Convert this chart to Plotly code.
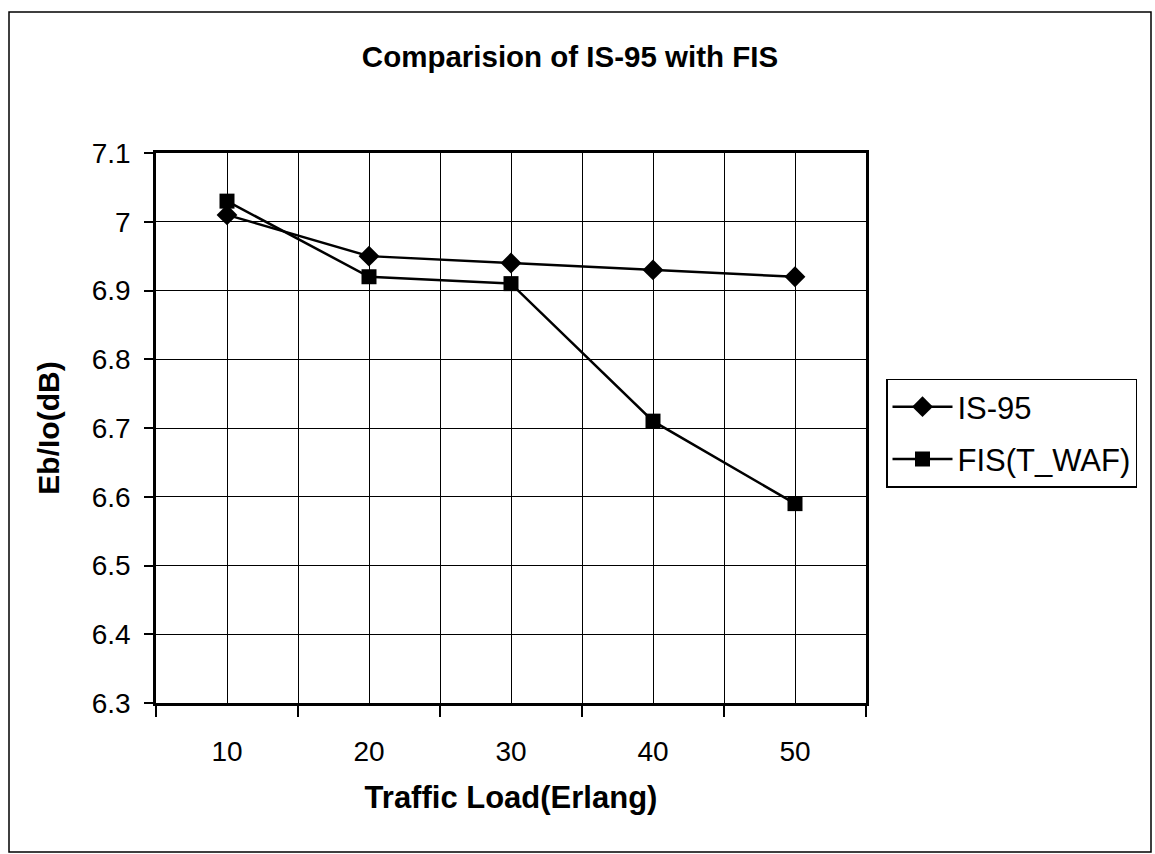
import plotly.graph_objects as go

traffic_load = [10, 20, 30, 40, 50]
is95 = [7.01, 6.95, 6.94, 6.93, 6.92]
fis_twaf = [7.03, 6.92, 6.91, 6.71, 6.59]
y_ticks = [7.1, 7.0, 6.9, 6.8, 6.7, 6.6, 6.5, 6.4, 6.3]
y_tick_text = ["7.1", "7", "6.9", "6.8", "6.7", "6.6", "6.5", "6.4", "6.3"]
x_tick_text = ["10", "20", "30", "40", "50"]

FONT = "Liberation Sans, Arial, sans-serif"
boundaries = [traffic_load[0] - 5] + [v + 5 for v in traffic_load]

fig = go.Figure()
fig.add_trace(go.Scatter(
    x=traffic_load, y=is95, name="IS-95", mode="lines+markers", legendgroup="a",
    line=dict(color="black", width=2.5),
    marker=dict(symbol="diamond", size=16, color="black"),
))
fig.add_trace(go.Scatter(
    x=traffic_load, y=fis_twaf, name="FIS(T_WAF)", mode="lines+markers", legendgroup="b",
    line=dict(color="black", width=2.5),
    marker=dict(symbol="square", size=15, color="black"),
))

L, R, T, B = 156, 866, 153, 703
W, H = 1155, 854
PW, PH = R - L, B - T

fig.update_layout(
    width=W, height=H,
    margin=dict(l=L, r=W - R, t=T, b=H - B),
    paper_bgcolor="white", plot_bgcolor="white",
    font=dict(family=FONT, color="black", size=28),
    title=dict(text="<b>Comparision of IS-95 with FIS</b>", x=570 / W, xref="container",
               xanchor="center", y=1 - 57 / H, yref="container", yanchor="middle",
               font=dict(size=29.5, family=FONT)),
    showlegend=True,
    legend=dict(x=(886 - L) / PW, y=(B - 433) / PH, xanchor="left", yanchor="middle",
                bordercolor="black", borderwidth=1.5, bgcolor="white",
                font=dict(size=31, family=FONT), tracegroupgap=9, itemwidth=60),
    xaxis=dict(
        range=[boundaries[0], boundaries[-1]],
        tickmode="array", tickvals=traffic_load, ticktext=x_tick_text,
        ticks="", showgrid=True, gridcolor="black", gridwidth=1,
        showline=True, linecolor="black", linewidth=2.5, mirror=True,
        zeroline=False, ticklabelstandoff=22,
        tickfont=dict(size=28, family=FONT),
        minor=dict(tickmode="array", tickvals=boundaries, ticks="outside", ticklen=11,
                   tickcolor="black", tickwidth=1.5, showgrid=True, gridcolor="black", gridwidth=1),
        title=dict(text="<b>Traffic Load(Erlang)</b>", font=dict(size=31, family=FONT), standoff=20),
    ),
    yaxis=dict(
        range=[6.3, 7.1], tickmode="array", tickvals=y_ticks, ticktext=y_tick_text,
        ticks="outside", ticklen=9, tickcolor="black", tickwidth=1.5,
        showgrid=True, gridcolor="black", gridwidth=1,
        showline=True, linecolor="black", linewidth=2.5, mirror=True,
        zeroline=False, ticklabelstandoff=8,
        tickfont=dict(size=28, family=FONT),
        title=dict(text="<b>Eb/Io(dB)</b>", font=dict(size=30, family=FONT), standoff=24),
    ),
)

# outer chart frame
fig.add_shape(type="rect", xref="paper", yref="paper",
              x0=(9 - L) / PW, x1=(1151 - L) / PW,
              y0=(B - 852) / PH, y1=(B - 12) / PH,
              line=dict(color="black", width=1.5), fillcolor="rgba(0,0,0,0)", layer="below")

fig.write_html("out.html")
